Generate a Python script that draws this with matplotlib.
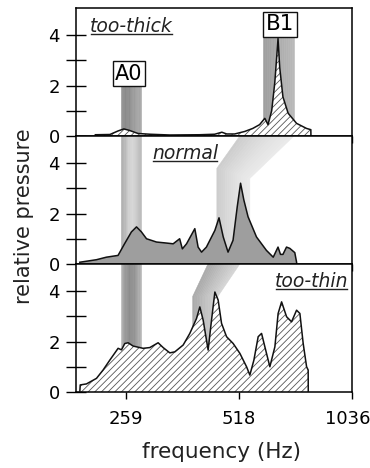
import numpy as np
import matplotlib
matplotlib.use("Agg")
import matplotlib.pyplot as plt
from matplotlib.patches import Polygon
from matplotlib.lines import Line2D
from matplotlib.transforms import ScaledTranslation

plt.rcParams["font.family"] = "DejaVu Sans"
plt.rcParams["hatch.linewidth"] = 0.6
plt.rcParams["hatch.color"] = "#555555"

# spectra: frequency (Hz) and relative pressure
thick_hz = [215, 235, 247, 256, 265, 279, 300, 339, 407, 446, 466, 480, 504, 536,
            563, 587, 606, 618, 632, 644, 653, 657, 664, 677, 699, 736, 782, 803, 803.5]
thick_p = [0.05, 0.06, 0.2, 0.28, 0.22, 0.1, 0.07, 0.04, 0.05, 0.07, 0.15, 0.08, 0.08, 0.18,
           0.3, 0.45, 0.7, 0.45, 1.0, 2.1, 3.3, 3.86, 2.7, 1.55, 0.9, 0.5, 0.3, 0.25, 0.0]

normal_hz = [195.5, 216.5, 230, 247, 257, 268, 276.5, 285, 294, 312.5, 332, 346, 360, 366,
             375.5, 395, 403, 411.6, 424, 446.5, 458, 470, 484, 499, 512, 522.5, 533, 547,
             576, 612, 638, 657, 667, 677, 692, 706, 728, 736, 736.5]
normal_p = [0.07, 0.17, 0.27, 0.34, 0.8, 1.27, 1.47, 1.27, 1.0, 0.87, 0.83, 0.8, 1.0, 0.6,
            0.8, 1.4, 0.67, 0.47, 0.67, 1.33, 1.83, 1.07, 0.47, 0.94, 2.27, 3.2, 2.54, 1.87,
            1.07, 0.54, 0.27, 0.67, 0.38, 0.38, 0.67, 0.62, 0.45, 0.07, 0.0]

thin_hz = [195.5, 196, 203.6, 216.5, 225.4, 234.8, 247.1, 252.3, 257.4, 262.7, 270.8, 287.9,
           300, 315.6, 325.4, 339, 349.5, 367.8, 383.1, 399.1, 407.3, 415.6, 428.5, 437.5,
           446.5, 455.6, 465.1, 479.6, 499.4, 520.3, 542, 553, 566.8, 581.9, 594.1, 606.2,
           625, 644.5, 657.4, 671.5, 692.3, 713.8, 735.9, 751, 766.3, 782.4, 790, 790.5]
thin_p = [0.0, 0.28, 0.32, 0.54, 0.87, 1.26, 1.73, 1.67, 1.92, 1.95, 1.82, 1.73,
          1.76, 1.95, 1.76, 1.55, 1.59, 1.86, 2.32, 2.91, 3.37, 2.85, 1.66, 2.85,
          3.96, 3.64, 2.72, 2.19, 1.92, 1.53, 1.0, 0.67, 1.26, 2.19, 2.32, 1.79,
          1.0, 1.79, 3.11, 3.57, 2.98, 2.78, 3.24, 3.11, 1.92, 1.0, 0.87, 0.0]

tick_hz = [259, 518, 1036]
tick_labels = ["259", "518", "1036"]
panel_names = ["too-thick", "normal", "too-thin"]
panel_name_pos = [(208, 4.13), (304, 4.17), (644, 4.16)]

# guide bands following the A0 and B1 modes (Hz, relative pressure per panel)
a0_top = [2.06, 5.07, 5.07]
a0_hz = [251, 284]
a0_shades = [[0.58, 0.54, 0.55, 0.6, 0.64, 0.66],
             [0.66, 0.72, 0.82, 0.84, 0.78, 0.72],
             [0.72, 0.6, 0.55, 0.56, 0.62, 0.72]]
b1_left = [[(598, 0), (598, 3.92)],
           [(452, 0), (452, 3.79), (520, 5.07)],
           [(390, 0), (390, 3.79), (428, 5.07)]]
b1_right = [[(725, 0), (725, 3.92)],
            [(553, 0), (553, 3.39), (724, 5.07)],
            [(455, 0), (455, 3.79), (520, 5.07)]]
b1_shades = [[0.62, 0.65, 0.69, 0.73],
             [0.8, 0.85, 0.89, 0.92],
             [0.66, 0.72, 0.78, 0.84]]


def ribbon(ax, left, right, shades, n=16):
    left = np.array(left, float)
    right = np.array(right, float)
    lx, rx = np.log(left[:, 0]), np.log(right[:, 0])
    ts = np.linspace(0, 1, n + 1)
    grays = np.interp((ts[:-1] + ts[1:]) / 2, np.linspace(0, 1, len(shades)), shades)
    for t0, t1, g in zip(ts[:-1], ts[1:], grays):
        a = np.column_stack([np.exp(lx + (rx - lx) * t0), left[:, 1] + (right[:, 1] - left[:, 1]) * t0])
        b = np.column_stack([np.exp(lx + (rx - lx) * t1), left[:, 1] + (right[:, 1] - left[:, 1]) * t1])
        c = (g, g, g)
        ax.add_patch(Polygon(np.vstack([a, b[::-1]]), closed=True, facecolor=c,
                             edgecolor=c, lw=0.4, zorder=1))


fig, axes = plt.subplots(3, 1, sharex=True, figsize=(3.7, 4.68), dpi=100)
fig.subplots_adjust(left=0.2054, right=0.9527, bottom=0.1624, top=0.9829, hspace=0)

spectra = [(thick_hz, thick_p), (normal_hz, normal_p), (thin_hz, thin_p)]
for i, ax in enumerate(axes):
    hz, p = spectra[i]
    ribbon(ax, [(a0_hz[0], 0), (a0_hz[0], a0_top[i])], [(a0_hz[1], 0), (a0_hz[1], a0_top[i])],
           a0_shades[i])
    ribbon(ax, b1_left[i], b1_right[i], b1_shades[i])
    if i == 1:
        ax.fill_between(hz, p, 0, facecolor="#9e9e9e", lw=0, zorder=2)
    else:
        ax.fill_between(hz, p, 0, facecolor="white", edgecolor="#555555", hatch="/////",
                        lw=0, zorder=2)
    ax.plot(hz, p, color="#111111", lw=1.1, zorder=3)

    ax.set_xscale("log")
    ax.set_xlim(191, 1036)
    ax.set_ylim(0, 5.07)
    ax.set_yticks([0, 1, 2, 3, 4])
    ax.set_yticklabels(["0", "", "2", "", "4"])
    ax.set_xticks(tick_hz)
    ax.xaxis.set_minor_locator(matplotlib.ticker.NullLocator())
    ax.tick_params(axis="y", direction="inout", length=14, width=1.0, pad=4.5, labelsize=13)
    ax.tick_params(axis="x", direction="out", length=5, width=1.0, pad=8, labelsize=13)
    for s in ax.spines.values():
        s.set_linewidth(1.1)
    if i < 2:
        ax.tick_params(axis="x", labelbottom=False)

axes[2].set_xticklabels(tick_labels)
# keep "1036" inside the canvas, as in the original
last = axes[2].get_xticklabels()[-1]
last.set_transform(last.get_transform() + ScaledTranslation(-5 / 100, 0, fig.dpi_scale_trans))

labels = []
for ax, name, (x, y) in zip(axes, panel_names, panel_name_pos):
    labels.append(ax.text(x, y, name, style="italic", fontsize=13.5, ha="left",
                          va="baseline", color="#222222", zorder=4))

box = dict(boxstyle="square,pad=0.12", fc="white", ec="#111111", lw=1.0)
axes[0].text(263.8, 2.46, "A0", fontsize=15, ha="center", va="center", bbox=box, zorder=5)
axes[0].text(664, 4.42, "B1", fontsize=15.5, ha="center", va="center", bbox=box, zorder=5)

fig.text(24 / 370, 1 - 216.5 / 468, "relative pressure", rotation=90, fontsize=15,
         ha="center", va="center", color="#222222")
fig.text(222 / 370, 1 - 451.5 / 468, "frequency (Hz)", fontsize=15.5,
         ha="center", va="center", color="#222222")

# underline the panel names
fig.canvas.draw()
inv = fig.transFigure.inverted()
for t in labels:
    bb = t.get_window_extent()
    base = t.get_transform().transform(t.get_position())[1]
    (x0, y0), (x1, _) = inv.transform([(bb.x0 + 1, base - 2), (bb.x1 - 1, base - 2)])
    fig.add_artist(Line2D([x0, x1], [y0, y0], color="#222222", lw=1.0))

fig.savefig("out.png", dpi=100)
